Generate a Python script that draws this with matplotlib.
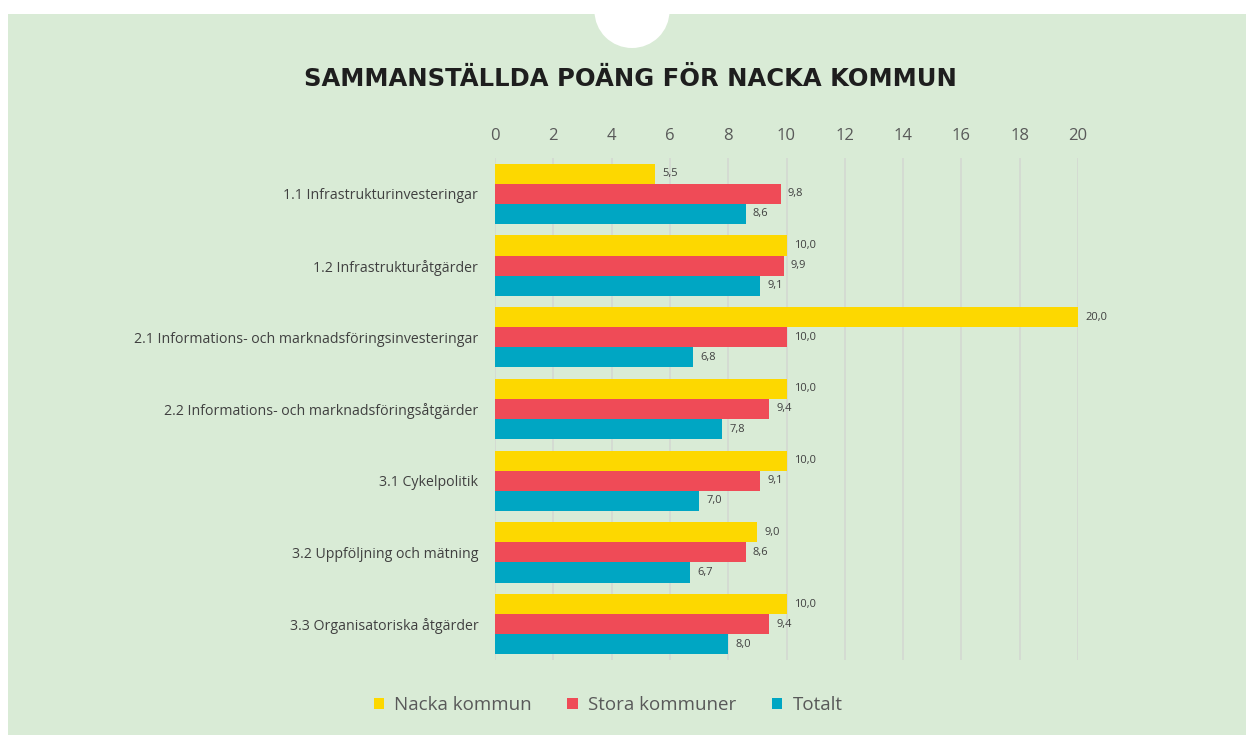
import numpy as np
import matplotlib.pyplot as plt
from matplotlib.patches import Ellipse, Rectangle

categories = ["1.1 Infrastrukturinvesteringar",
              "1.2 Infrastrukturåtgärder",
              "2.1 Informations- och marknadsföringsinvesteringar",
              "2.2 Informations- och marknadsföringsåtgärder",
              "3.1 Cykelpolitik",
              "3.2 Uppföljning och mätning",
              "3.3 Organisatoriska åtgärder"]
nacka = [5.5, 10.0, 20.0, 10.0, 10.0, 9.0, 10.0]
stora = [9.8, 9.9, 10.0, 9.4, 9.1, 8.6, 9.4]
totalt = [8.6, 9.1, 6.8, 7.8, 7.0, 6.7, 8.0]
series_names = ["Nacka kommun", "Stora kommuner", "Totalt"]
colors = ["#FDD800", "#EF4B57", "#00A6C3"]
bg = "#D9EBD6"
txt = "#404040"

fig = plt.figure(figsize=(12.46, 7.35), dpi=100)
fig.patch.set_facecolor("white")
# green panel and white half circle on top
fig.patches.append(Rectangle((8 / 1246, 0), 1, 1 - 14 / 735, transform=fig.transFigure,
                             facecolor=bg, edgecolor="none", zorder=-2))
fig.patches.append(Ellipse((632 / 1246, 1 - 11 / 735), 75 / 1246, 74 / 735,
                           transform=fig.transFigure, facecolor="white",
                           edgecolor="none", zorder=-1))

ax = fig.add_axes([495 / 1246, 1 - 660 / 735, (1078 - 495) / 1246, (660 - 158) / 735])
ax.set_facecolor("none")
ax.set_zorder(2)

y = np.arange(len(categories))
h = 0.28
for k, (vals, name, c) in enumerate(zip([nacka, stora, totalt], series_names, colors)):
    pos = y + (k - 1) * h
    ax.barh(pos, vals, height=h, color=c, label=name, zorder=3)
    for p, v in zip(pos, vals):
        ax.text(v + 0.25, p, f"{v:.1f}".replace(".", ","), va="center", ha="left",
                fontsize=8, color=txt, fontfamily="Open Sans")

ax.set_xlim(0, 20)
ax.set_ylim(len(categories) - 0.5, -0.5)
ax.set_xticks(range(0, 21, 2))
ax.xaxis.tick_top()
ax.tick_params(axis="x", length=0, pad=10, labelsize=12, labelcolor="#595959")
ax.set_yticks(y)
ax.set_yticklabels(categories, fontsize=10.2, color=txt, fontfamily="Open Sans")
ax.tick_params(axis="y", length=0, pad=12)
for lab in ax.get_xticklabels():
    lab.set_fontfamily("Open Sans")
ax.grid(axis="x", color="#D4D8D2", linewidth=1.2, zorder=0)
ax.grid(axis="y", visible=False)
for s in ax.spines.values():
    s.set_visible(False)

fig.text(630 / 1246, 1 - 79 / 735, "SAMMANSTÄLLDA POÄNG FÖR NACKA KOMMUN",
         ha="center", va="center", fontsize=17.5, fontweight="bold",
         color="#1E1E1E", fontfamily="DejaVu Sans")

leg = fig.legend(loc="center", bbox_to_anchor=(608 / 1246, 1 - 705 / 735), ncol=3,
                 frameon=False, handlelength=0.55, handleheight=0.55,
                 columnspacing=1.9, handletextpad=0.55,
                 prop={"family": "Open Sans", "size": 13.5})
for t in leg.get_texts():
    t.set_color("#595959")

fig.savefig("out.png", dpi=100, facecolor=fig.get_facecolor())
